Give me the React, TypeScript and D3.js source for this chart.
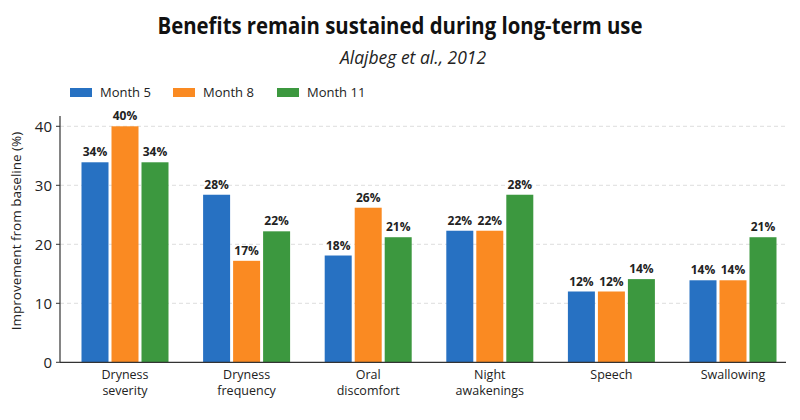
import React from "react";
import * as d3 from "d3";

const categories = [
  ["Dryness", "severity"],
  ["Dryness", "frequency"],
  ["Oral", "discomfort"],
  ["Night", "awakenings"],
  ["Speech"],
  ["Swallowing"],
];
const seriesNames = ["Month 5", "Month 8", "Month 11"];
const month5 = [33.9, 28.4, 18.1, 22.3, 12.0, 13.9];
const month8 = [40.0, 17.2, 26.2, 22.3, 12.0, 13.9];
const month11 = [33.9, 22.2, 21.2, 28.4, 14.1, 21.2];
const yTicks = [0, 10, 20, 30, 40];
const colors = ["#2771c2", "#fa8a22", "#3c983f"];

const W = 800;
const H = 420;
const FONT = "'Open Sans', 'Noto Sans', sans-serif";

export default function App() {
  const series = [month5, month8, month11];
  const x = d3
    .scalePoint<number>()
    .domain(d3.range(categories.length))
    .range([125, 733]);
  const offset = d3.scaleLinear().domain([0, 2]).range([-30, 30]);
  const y = d3.scaleLinear().domain([0, 40]).range([362.3, 126.3]);
  const barW = 27;
  const axisLeft = 60;
  const axisRight = 786;

  return (
    <svg
      width={W}
      height={H}
      style={{ position: "absolute", left: 0, top: 0, background: "#fff" }}
      fontFamily={FONT}
    >
      <rect width={W} height={H} fill="#fff" />
      <text
        x={400}
        y={34}
        textAnchor="middle"
        fontSize={24}
        fontWeight={700}
        fill="#111"
        textLength={485}
        lengthAdjust="spacingAndGlyphs"
      >
        Benefits remain sustained during long-term use
      </text>
      <text
        x={413}
        y={64}
        textAnchor="middle"
        fontSize={17.5}
        fontStyle="italic"
        fill="#222"
      >
        Alajbeg et al., 2012
      </text>

      {/* legend */}
      {seriesNames.map((n, i) => {
        const lx = [70, 173, 277][i];
        return (
          <g key={n}>
            <rect x={lx} y={88} width={22} height={9} fill={colors[i]} />
            <text x={lx + 30} y={97} fontSize={13} fill="#222">
              {n}
            </text>
          </g>
        );
      })}

      {/* gridlines */}
      {yTicks
        .filter((t) => t > 0)
        .map((t) => (
          <line
            key={t}
            x1={axisLeft}
            x2={axisRight}
            y1={y(t)}
            y2={y(t)}
            stroke="#d4d4d4"
            strokeWidth={0.8}
            strokeDasharray="4,3"
          />
        ))}

      {/* bars */}
      {series.map((vals, si) =>
        vals.map((v, ci) => {
          const cx = (x(ci) as number) + offset(si);
          return (
            <g key={`${si}-${ci}`}>
              <rect
                x={cx - barW / 2}
                y={y(v)}
                width={barW}
                height={y(0) - y(v)}
                fill={colors[si]}
              />
              <text
                x={cx}
                y={y(v) - 6}
                textAnchor="middle"
                fontSize={12}
                fontWeight={700}
                fill="#222"
              >
                {`${Math.round(v)}%`}
              </text>
            </g>
          );
        })
      )}

      {/* axes */}
      <line x1={axisLeft} x2={axisLeft} y1={116} y2={y(0)} stroke="#333" strokeWidth={1.2} />
      <line x1={axisLeft} x2={axisRight} y1={y(0)} y2={y(0)} stroke="#333" strokeWidth={1.2} />
      {yTicks.map((t) => (
        <g key={t}>
          <line x1={axisLeft - 4} x2={axisLeft} y1={y(t)} y2={y(t)} stroke="#333" strokeWidth={1} />
          <text
            x={axisLeft - 8}
            y={y(t)}
            dy="0.35em"
            textAnchor="end"
            fontSize={15}
            fill="#222"
          >
            {t}
          </text>
        </g>
      ))}
      {categories.map((lines, ci) =>
        lines.map((l, li) => (
          <text
            key={`${ci}-${li}`}
            x={x(ci) as number}
            y={379 + li * 16}
            textAnchor="middle"
            fontSize={12.5}
            fill="#222"
          >
            {l}
          </text>
        ))
      )}
      <text
        transform={`translate(21,231) rotate(-90)`}
        textAnchor="middle"
        fontSize={13.5}
        fill="#222"
      >
        Improvement from baseline (%)
      </text>
    </svg>
  );
}
